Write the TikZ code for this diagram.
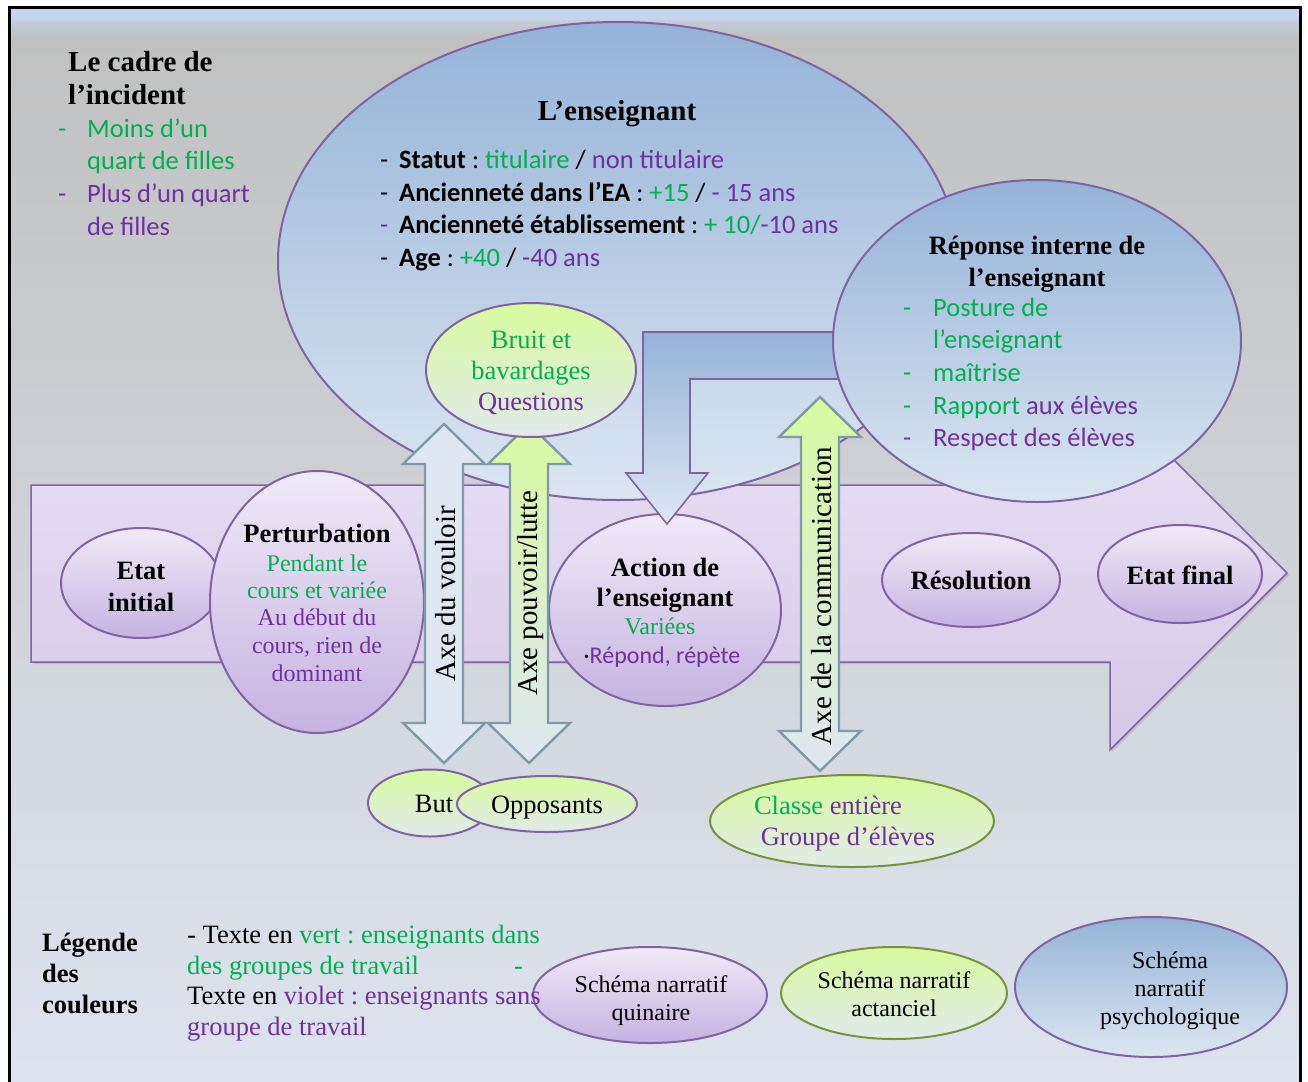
\documentclass[tikz,border=0pt]{standalone}
\usepackage{fontspec}
\setmainfont{Liberation Serif}
\newfontfamily\cali{Carlito}
\usetikzlibrary{shapes.geometric,shadows}
\frenchspacing
\definecolor{vert}{HTML}{00B050}
\definecolor{viol}{HTML}{7030A0}
\definecolor{bord}{HTML}{8064A2}
\definecolor{olivb}{HTML}{77933C}
\definecolor{axeb}{HTML}{7F9AA7}
\definecolor{lavtop}{HTML}{F0EAF8}
\definecolor{lavbot}{HTML}{C6B3E1}
\definecolor{bltop}{HTML}{95B3D7}
\definecolor{blbot}{HTML}{DCE6F2}
\definecolor{grtop}{HTML}{D7FB9F}
\definecolor{grbot}{HTML}{E2EAEA}
\definecolor{axefill}{HTML}{DFE7F2}
\definecolor{bgtop}{HTML}{C0C0C0}
\definecolor{bgmid}{HTML}{CED1D7}
\definecolor{bgbot}{HTML}{DEE4F0}
\definecolor{bandA}{HTML}{C5D5EE}
\definecolor{bandB}{HTML}{C4CDDC}
\definecolor{lbandtop}{HTML}{E9E1F5}
\definecolor{lbandbot}{HTML}{D6C8E9}
\definecolor{bentbot}{HTML}{DEE7F3}
\newcommand\dblarr[3]{(#1,#2) -- ++(41,40) -- ++(-22,0) -- (#1+19,#3-40) -- ++(22,0) -- (#1,#3) -- ++(-41,-40) -- ++(22,0) -- (#1-19,#2+40) -- ++(-22,0) -- cycle}
\tikzset{
  ell/.style={ellipse, draw=bord, line width=2pt, inner sep=0pt},
  lav/.style={ell, top color=lavtop, bottom color=lavbot},
  blu/.style={ell, top color=bltop, bottom color=blbot},
  grn/.style={ell, top color=grtop, bottom color=grbot},
  txt/.style={inner sep=0pt, anchor=base},
  tl/.style={inner sep=0pt, anchor=base west},
  sA/.style={font=\fontsize{26.5}{30}\selectfont},
  sB/.style={font=\fontsize{26.5}{30}\selectfont\bfseries},
  sH/.style={font=\fontsize{29}{33}\selectfont\bfseries},
  sS/.style={font=\fontsize{24}{28}\selectfont},
  sX/.style={font=\fontsize{29}{33}\selectfont},
  cA/.style={font=\cali\fontsize{26.5}{30}\selectfont},
  cS/.style={font=\cali\fontsize{24}{28}\selectfont},
  axe/.style={draw=axeb, line width=2.4pt, line join=miter},
}
\begin{document}
\begin{tikzpicture}[x=1pt,y=-1pt]
\useasboundingbox (0,0) rectangle (1308,1081);
\clip (0,0) rectangle (1308,1081);
\fill[white] (0,0) rectangle (1308,1081);
% background
\fill[top color=bgtop, middle color=bgmid, bottom color=bgbot] (9,8) rectangle (1300,1095);
\fill[bandA] (9,8) rectangle (1300,21);
\fill[top color=bandB, bottom color=bgtop] (9,21) rectangle (1300,38);
\draw[line width=3pt] (9,8) rectangle (1300,1095);

% big lavender arrow (quinary scheme)
\draw[bord, line width=1.5pt, top color=lbandtop, bottom color=lbandbot, drop shadow={shadow xshift=2pt, shadow yshift=-2pt, opacity=0.25}]
  (31,485) -- (1110,485) -- (1110,396) -- (1287,573) -- (1110,750) -- (1110,662) -- (31,662) -- cycle;

% teacher ellipse
\node[blu, minimum width=680pt, minimum height=478pt] (ens) at (618,261) {};
\node[txt, sH] (ensT) at (617,120) {L’enseignant};
\node[tl, cA] (d1) at (380,168) {-};
\node[tl, cA] (e1) at (399,168) {\textbf{Statut} : {\color{vert}titulaire} / {\color{viol}non titulaire}};
\node[tl, cA] (d2) at (380,201) {-};
\node[tl, cA] (e2) at (399,201) {\textbf{Ancienneté dans l’EA} : {\color{vert}+15} / {\color{viol}- 15 ans}};
\node[tl, cA, text=viol] (d3) at (380,233) {-};
\node[tl, cA] (e3) at (399,233) {\textbf{Ancienneté établissement} : {\color{vert}+ 10/}{\color{viol}-10 ans}};
\node[tl, cA] (d4) at (380,266) {-};
\node[tl, cA] (e4) at (399,266) {\textbf{Age} : {\color{vert}+40} / {\color{viol}-40 ans}};

% ellipses on the band
\node[lav, minimum width=160pt, minimum height=110pt] (ei) at (141,583) {};
\node[txt, sB] (eiT1) at (141,579) {Etat};
\node[txt, sB] (eiT2) at (141,611) {initial};

\node[lav, minimum width=214pt, minimum height=262pt] (pert) at (317,602) {};
\node[txt, sB] (pT) at (317,542) {Perturbation};
\node[txt, sS, text=vert] (p1) at (317,571) {Pendant le};
\node[txt, sS, text=vert] (p2) at (317,598) {cours et variée};
\node[txt, sS, text=viol] (p3) at (317,625) {Au début du};
\node[txt, sS, text=viol] (p4) at (317,653) {cours, rien de};
\node[txt, sS, text=viol] (p5) at (317,681) {dominant};

\node[lav, minimum width=232pt, minimum height=192pt] (act) at (665,610) {};
\node[txt, sB] (aT1) at (665,576) {Action de};
\node[txt, sB] (aT2) at (665,606) {l’enseignant};
\node[txt, sS, text=vert] (a1) at (660,634) {Variées};
\node[txt, cS] (a2) at (662,663) {·{\color{viol}Répond, répète}};

\node[lav, minimum width=178pt, minimum height=94pt] (res) at (971,580) {};
\node[txt, sB] (resT) at (971,589) {Résolution};
\node[lav, minimum width=164pt, minimum height=98pt] (ef) at (1180,574) {};
\node[txt, sB] (efT) at (1180,584) {Etat final};

% bent arrow from the internal response to the action
\draw[bord, line width=1.6pt, top color=bltop, bottom color=bentbot]
  (643,332) -- (850,332) -- (850,379) -- (690,379) -- (690,473) -- (708,473) -- (667,524) -- (626,473) -- (643,473) -- cycle;

% internal response ellipse
\node[blu, minimum width=408pt, minimum height=322pt] (rep) at (1037,341) {};
\node[txt, sB] (rT1) at (1037,254) {Réponse interne de};
\node[txt, sB] (rT2) at (1037,286) {l’enseignant};
\node[tl, cA, text=vert] (r1d) at (903,316) {-};
\node[tl, cA, text=vert] (r1) at (933,316) {Posture de};
\node[tl, cA, text=vert] (r2) at (933,348) {l’enseignant};
\node[tl, cA, text=vert] (r3d) at (903,381) {-};
\node[tl, cA, text=vert] (r3) at (933,381) {maîtrise};
\node[tl, cA, text=vert] (r4d) at (903,414) {-};
\node[tl, cA, text=vert] (r4) at (933,414) {Rapport {\color{viol}aux élèves}};
\node[tl, cA, text=viol] (r5d) at (903,446) {-};
\node[tl, cA, text=viol] (r5) at (933,446) {Respect des élèves};

% axes (double arrows)
\draw[axe, fill=axefill] \dblarr{444}{424}{763};
\node[sX, rotate=90, inner sep=0pt] (axV) at (446,594) {Axe du vouloir};
\draw[axe, top color=grtop, bottom color=axefill] \dblarr{529}{424}{763};
\node[sX, rotate=90, inner sep=0pt] (axP) at (531,593) {Axe pouvoir/lutte};
\draw[axe, top color=grtop, bottom color=axefill] \dblarr{820}{397}{771};
\node[sX, rotate=90, inner sep=0pt] (axC) at (822,596) {Axe de la communication};

% noise / questions
\node[grn, minimum width=210pt, minimum height=134pt] (bruit) at (531,370) {};
\node[txt, sA, text=vert] (b1) at (531,348) {Bruit et};
\node[txt, sA, text=vert] (b2) at (531,379) {bavardages};
\node[txt, sA, text=viol] (b3) at (531,410) {Questions};

% bottom actants
\node[grn, minimum width=124pt, minimum height=67pt] (but) at (430,803) {};
\node[grn, minimum width=180pt, minimum height=56pt] (opp) at (547,804) {};
\node[txt, sA] (butT) at (434,812) {But};
\node[txt, sA] (oppT) at (547,813) {Opposants};
\node[grn, draw=olivb, minimum width=284pt, minimum height=92pt] (cla) at (852,821) {};
\node[txt, sA] (c1) at (828,814) {{\color{vert}Classe} {\color{viol}entière}};
\node[txt, sA, text=viol] (c2) at (848,845) {Groupe d’élèves};

% top-left frame text
\node[tl, sH] (cd1) at (68,71) {Le cadre de};
\node[tl, sH] (cd2) at (68,104) {l’incident};
\node[tl, cA, text=vert] (l1d) at (58,137) {-};
\node[tl, cA, text=vert] (l1) at (87,137) {Moins d’un};
\node[tl, cA, text=vert] (l2) at (87,169) {quart de filles};
\node[tl, cA, text=viol] (l3d) at (58,202) {-};
\node[tl, cA, text=viol] (l3) at (87,202) {Plus d’un quart};
\node[tl, cA, text=viol] (l4) at (87,235) {de filles};

% legend schemes
\node[lav, minimum width=234pt, minimum height=96pt] (q) at (650,995) {};
\node[txt, sS] (q1) at (651,992) {Schéma narratif};
\node[txt, sS] (q2) at (651,1020) {quinaire};
\node[grn, draw=olivb, minimum width=226pt, minimum height=92pt] (ac) at (894,993) {};
\node[txt, sS] (ac1) at (894,988) {Schéma narratif};
\node[txt, sS] (ac2) at (894,1016) {actanciel};
\node[blu, minimum width=272pt, minimum height=140pt] (ps) at (1151,987) {};
\node[txt, sS] (ps1) at (1170,968) {Schéma};
\node[txt, sS] (ps2) at (1170,996) {narratif};
\node[txt, sS] (ps3) at (1170,1024) {psychologique};

% legend text
\node[tl, sB] (lg1) at (42,951) {Légende};
\node[tl, sB] (lg2) at (42,982) {des};
\node[tl, sB] (lg3) at (42,1013) {couleurs};
\node[tl, sA] (lt1) at (187,943) {- Texte en {\color{vert}vert : enseignants dans}};
\node[tl, sA, text=vert] (lt2) at (187,974) {des groupes de travail};
\node[tl, sA, text=vert] (lt2d) at (514,974) {-};
\node[tl, sA] (lt3) at (187,1004) {Texte en {\color{viol}violet : enseignants sans}};
\node[tl, sA, text=viol] (lt4) at (187,1035) {groupe de travail};
\end{tikzpicture}
\end{document}
